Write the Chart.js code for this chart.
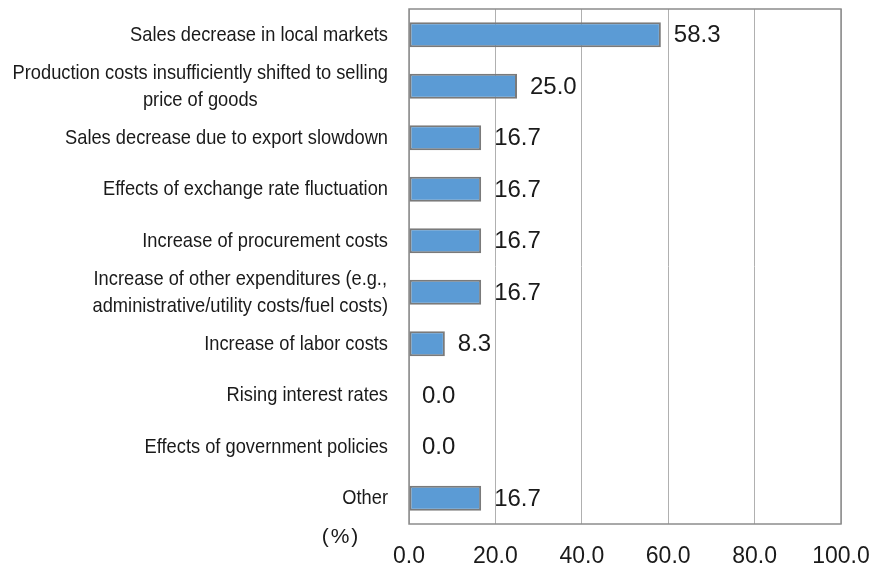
<!DOCTYPE html>
<html>
<head>
<meta charset="utf-8">
<script src="https://cdn.jsdelivr.net/npm/chart.js@4/dist/chart.umd.min.js"></script>
<style>
  html, body { margin: 0; padding: 0; background: #fff; }
  #factores { display: block; }
</style>
</head>
<body>
<canvas id="factores" width="873" height="566"></canvas>
<script>
// Factores de deterioro de ganancias (% de empresas)
const categories = [
    'Sales decrease in local markets',
    ['Production costs insufficiently shifted to selling', 'price of goods'],
    'Sales decrease due to export slowdown',
    'Effects of exchange rate fluctuation',
    'Increase of procurement costs',
    ['Increase of other expenditures (e.g.,', 'administrative/utility costs/fuel costs)'],
    'Increase of labor costs',
    'Rising interest rates',
    'Effects of government policies',
    'Other'
];
const shares = [58.3, 25.0, 16.7, 16.7, 16.7, 16.7, 8.3, 0.0, 0.0, 16.7];
const xTicks = [0, 20, 40, 60, 80, 100];
const unitLabel = '(%)';

const textColor = '#1a1a1a';
const fontFamily = '"Liberation Sans", Arial, sans-serif';

// Marco gris alrededor del área del gráfico
const marcoPlugin = {
    id: 'marco',
    beforeDatasetsDraw(chart) {
        const a = chart.chartArea;
        const ctx = chart.ctx;
        ctx.save();
        ctx.strokeStyle = '#8c8c8c';
        ctx.lineWidth = 1.5;
        ctx.strokeRect(a.left, a.top, a.right - a.left, a.bottom - a.top);
        ctx.restore();
    }
};

// Valores a la derecha de cada barra
const valoresPlugin = {
    id: 'valores',
    afterDatasetsDraw(chart) {
        const ctx = chart.ctx;
        const meta = chart.getDatasetMeta(0);
        ctx.save();
        ctx.fillStyle = textColor;
        ctx.font = '24px ' + fontFamily;
        ctx.textAlign = 'left';
        ctx.textBaseline = 'middle';
        meta.data.forEach((bar, i) => {
            ctx.fillText(shares[i].toFixed(1), bar.x + 13, bar.y + 1);
        });
        ctx.restore();
    }
};

// Etiquetas de categoría: alineadas a la derecha, líneas centradas entre sí
const etiquetasPlugin = {
    id: 'etiquetas',
    afterDraw(chart) {
        const ctx = chart.ctx;
        const y = chart.scales.y;
        const right = 388;
        const sx = 0.87;
        const lineHeight = 27;
        ctx.save();
        ctx.fillStyle = textColor;
        ctx.font = '21px ' + fontFamily;
        ctx.textAlign = 'center';
        ctx.textBaseline = 'middle';
        categories.forEach((label, i) => {
            const lines = Array.isArray(label) ? label : [label];
            const widest = Math.max(...lines.map(l => ctx.measureText(l).width)) * sx;
            const cx = right - widest / 2;
            const cy = y.getPixelForValue(i);
            lines.forEach((line, j) => {
                const ly = cy + (j - (lines.length - 1) / 2) * lineHeight;
                ctx.save();
                ctx.translate(cx, ly);
                ctx.scale(sx, 1);
                ctx.fillText(line, 0, 0);
                ctx.restore();
            });
        });

        // unidad bajo las etiquetas
        ctx.font = '21px ' + fontFamily;
        ctx.letterSpacing = '2px';
        ctx.fillText(unitLabel, 341, 537);
        ctx.restore();
    }
};

const ctx = document.getElementById('factores').getContext('2d');

new Chart(ctx, {
    type: 'bar',
    data: {
        labels: categories,
        datasets: [{
            data: shares,
            backgroundColor: '#5B9BD5',
            borderColor: '#7a7a7a',
            borderWidth: c => (c.raw === 0 ? 0 : 2),
            borderSkipped: false,
            barPercentage: 0.49,
            categoryPercentage: 1.0
        }]
    },
    options: {
        indexAxis: 'y',
        responsive: false,
        animation: false,
        events: [],
        layout: {
            padding: { top: 9, right: 32, left: 0, bottom: 0 }
        },
        plugins: {
            legend: { display: false },
            tooltip: { enabled: false }
        },
        scales: {
            x: {
                min: xTicks[0],
                max: xTicks[xTicks.length - 1],
                afterFit: s => {
                    s.height = 42;
                    s.paddingLeft = 0;
                    s.paddingRight = 0;
                },
                afterBuildTicks: s => { s.ticks = xTicks.map(v => ({ value: v })); },
                grid: {
                    color: '#b0b0b0',
                    lineWidth: 1,
                    drawTicks: false
                },
                border: { display: false },
                ticks: {
                    color: textColor,
                    padding: 19,
                    font: { family: fontFamily, size: 23 },
                    callback: v => Number(v).toFixed(1)
                }
            },
            y: {
                afterFit: s => { s.width = 409; },
                grid: { display: false },
                border: { display: false },
                ticks: { display: false }
            }
        }
    },
    plugins: [marcoPlugin, valoresPlugin, etiquetasPlugin]
});
</script>
</body>
</html>
